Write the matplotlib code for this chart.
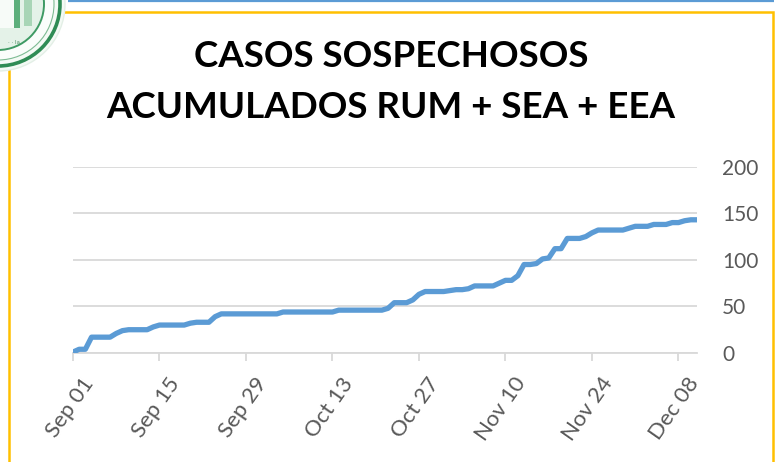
import numpy as np
import pandas as pd
import matplotlib
matplotlib.use('Agg')
import matplotlib.pyplot as plt
from matplotlib.patches import Circle, Rectangle
from matplotlib.transforms import ScaledTranslation

TITLE_LINES = ['CASOS SOSPECHOSOS', 'ACUMULADOS RUM + SEA + EEA']
START_DATE = '2020-09-01'
# cumulative suspected cases, one value per day from Sep 01 to Dec 11
CASES = [
    1, 4, 4, 17, 17, 17, 17, 21, 24, 25,
    25, 25, 25, 28, 30, 30, 30, 30, 30, 32,
    33, 33, 33, 39, 42, 42, 42, 42, 42, 42,
    42, 42, 42, 42, 44, 44, 44, 44, 44, 44,
    44, 44, 44, 46, 46, 46, 46, 46, 46, 46,
    46, 48, 54, 54, 54, 57, 63, 66, 66, 66,
    66, 67, 68, 68, 69, 72, 72, 72, 72, 75,
    78, 78, 83, 95, 95, 96, 101, 102, 112, 112,
    123, 123, 123, 125, 129, 132, 132, 132, 132, 132,
    134, 136, 136, 136, 138, 138, 138, 140, 140, 142,
    143, 143,
]
Y_TICKS = [0, 50, 100, 150, 200]

LINE_COLOR = '#5B9BD5'
GRID_COLOR = '#D9D9D9'
TEXT_GRAY = '#595959'
BORDER_YELLOW = '#FFC000'
FONT = ['Lato', 'DejaVu Sans']

W, H = 778, 462
dates = pd.date_range(START_DATE, periods=len(CASES), freq='D')

fig = plt.figure(figsize=(W / 100, H / 100), dpi=100)
fig.patch.set_facecolor('white')

# overlay in pixel coordinates for the slide decorations (border + seal)
deco = fig.add_axes([0, 0, 1, 1], zorder=0)
deco.set_xlim(0, W)
deco.set_ylim(H, 0)
deco.axis('off')
deco.plot([68, 774], [1, 1], color=LINE_COLOR, lw=1.6, solid_capstyle='butt')
deco.add_patch(Rectangle((9, 12), 764, 470, fill=False, edgecolor=BORDER_YELLOW, lw=1.8))

# partial university seal in the corner (faded green)
c = (-2, 4)
deco.add_patch(Circle(c, 67, facecolor='#F4FAF5', edgecolor='#E3EFE6', lw=1, zorder=3))
deco.add_patch(Circle(c, 62, facecolor='none', edgecolor='#2F8C55', lw=2.6, zorder=4))
deco.add_patch(Circle(c, 56, facecolor='#FAFDFB', edgecolor='#7DBB93', lw=0.8, zorder=4))
deco.add_patch(Circle(c, 46, facecolor='#E4F2E8', edgecolor='#3E9A64', lw=1.4, zorder=5))
deco.add_patch(Rectangle((0, -2), 14, 30, facecolor='#F7FBF8', edgecolor='none', zorder=6))
deco.add_patch(Rectangle((14, -2), 6, 30, facecolor='#5DAF7C', edgecolor='none', zorder=6))
deco.add_patch(Rectangle((24, -2), 8, 28, facecolor='#A8D5B6', edgecolor='none', zorder=6))
deco.text(8, 44, '· · la', fontsize=4, color='#4F8F66', zorder=7)

for i, line in enumerate(TITLE_LINES):
    fig.text(391 / W, 1 - (67 + 51 * i) / H, line, ha='center', va='baseline',
             fontsize=26.5, fontweight='bold', family=FONT, color='black')

ax = fig.add_axes([73 / W, 1 - 353 / H, (697 - 73) / W, (353 - 166.7) / H], zorder=2)
ax.patch.set_alpha(0)
ax.plot(dates, CASES, color=LINE_COLOR, lw=3.8, solid_joinstyle='round', zorder=3)

ax.set_ylim(0, 200)
ax.set_xlim(dates[0], dates[-1])
ax.set_yticks(Y_TICKS)
ax.yaxis.tick_right()
ax.grid(axis='y', color=GRID_COLOR, lw=1.3)
ax.set_axisbelow(True)
for s in ['top', 'left', 'right']:
    ax.spines[s].set_visible(False)
ax.spines['bottom'].set_color(GRID_COLOR)
ax.spines['bottom'].set_linewidth(1.3)

xt = dates[::14]
ax.set_xticks(xt)
ax.set_xticklabels([d.strftime('%b %d') for d in xt])
ax.tick_params(axis='y', length=0, pad=18, labelsize=15, labelcolor=TEXT_GRAY)
ax.tick_params(axis='x', length=6, width=1.3, color=GRID_COLOR, pad=9,
               labelsize=16, labelcolor=TEXT_GRAY)
for lab in ax.get_yticklabels() + ax.get_xticklabels():
    lab.set_family(FONT)
shift = ScaledTranslation(8 / 100, 0, fig.dpi_scale_trans)
for lab in ax.get_xticklabels():
    lab.set_rotation(55)
    lab.set_ha('right')
    lab.set_va('top')
    lab.set_rotation_mode('anchor')
    lab.set_transform(lab.get_transform() + shift)

fig.savefig('out.png', dpi=100, facecolor='white')
